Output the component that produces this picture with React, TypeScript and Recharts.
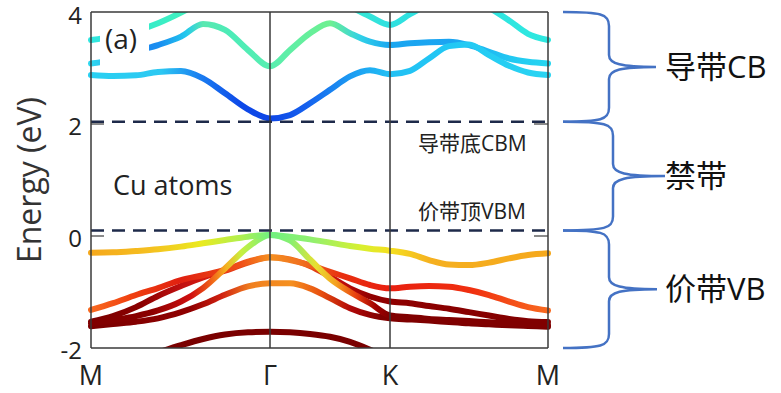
import { LineChart, Line, XAxis, YAxis, ReferenceLine } from 'recharts';

// k-path sampling (distance along M-Γ-K-M)
const kPath = [0, 22, 45, 67, 90, 112, 134, 157, 179, 199, 219, 239, 259, 279, 299, 319, 338, 358, 378, 398, 418, 437, 457];
const kTicks = [0, 179, 299, 457];
const kLabels = ['M', 'Γ', 'K', 'M'];
const energyTicks = [-2, 0, 2, 4];
const cbmLevel = 2.04;
const vbmLevel = 0.1;

// conduction bands (eV)
const bandC1 = [2.875, 2.857, 2.87, 2.93, 2.946, 2.815, 2.548, 2.262, 2.1, 2.16, 2.37, 2.61, 2.85, 2.96, 2.89, 2.95, 3.17, 3.39, 3.42, 3.23, 3.04, 2.92, 2.875];
const bandC2 = [3.08, 3.15, 3.3, 3.41, 3.56, 3.786, 3.68, 3.32, 3.03, 3.32, 3.62, 3.8, 3.62, 3.47, 3.41, 3.44, 3.46, 3.47, 3.41, 3.29, 3.17, 3.11, 3.08];
const bandC3 = [3.5, 3.56, 3.66, 3.8, 3.99, 4.2, null, null, null, null, null, null, 4.1, 3.92, 3.77, 3.96, 4.15, null, null, 4.08, 3.85, 3.61, 3.5];

// valence bands (eV)
const bandV1 = [-0.298, -0.292, -0.268, -0.238, -0.19, -0.131, -0.071, -0.012, 0.02, -0.012, -0.06, -0.119, -0.179, -0.226, -0.262, -0.32, -0.43, -0.51, -0.52, -0.476, -0.4, -0.34, -0.31];
const bandV2 = [-1.56, -1.5, -1.43, -1.33, -1.17, -0.93, -0.58, -0.2, 0.02, -0.08, -0.42, -0.76, -1.0, -1.2, -1.42, -1.45, -1.48, -1.5, -1.52, -1.54, -1.56, -1.58, -1.595];
const bandV3a = [-1.32, -1.2, -1.054, -0.93, -0.786, -0.7, -0.607, -0.458, -0.38, -0.43, -0.52, -0.64, -0.756, -0.875, -0.935, -0.905, -0.893, -0.905, -0.964, -1.054, -1.17, -1.27, -1.33];
const bandV3b = [-1.53, -1.43, -1.27, -1.07, -0.893, -0.74, -0.62, -0.476, -0.38, -0.417, -0.536, -0.726, -0.935, -1.08, -1.17, -1.2, -1.25, -1.3, -1.36, -1.42, -1.48, -1.52, -1.536];
const bandV4 = [-1.61, -1.57, -1.53, -1.47, -1.36, -1.22, -1.05, -0.9, -0.845, -0.845, -0.935, -1.11, -1.29, -1.41, -1.47, -1.49, -1.51, -1.536, -1.56, -1.577, -1.595, -1.607, -1.62];
const bandV5 = [null, null, null, -2.08, -1.95, -1.84, -1.76, -1.72, -1.71, -1.72, -1.75, -1.8, -1.89, -2.03, -2.2, null, null, null, null, null, null, null, null];

// colour along each band: [k, colour]
const stopsC1 = [[0, '#2ad0f2'], [70, '#2cc8f2'], [110, '#1a7cf0'], [150, '#0d48e8'], [179, '#0e46e6'], [215, '#1560ee'], [260, '#1c9cf2'], [299, '#22c0f4'], [360, '#22c8f4'], [457, '#2ad4f2']];
const stopsC2 = [[0, '#30d8f0'], [50, '#1e88f0'], [70, '#1a90f0'], [95, '#22c8ee'], [112, '#5ae8b0'], [140, '#4cecb8'], [179, '#58eeb0'], [239, '#6ef090'], [270, '#30d0e8'], [299, '#1aa6f0'], [360, '#1ba4f2'], [420, '#22c8f2'], [457, '#26d6f0']];
const stopsC3 = [[0, '#30e6e0'], [60, '#38ecc8'], [90, '#40f0c0'], [260, '#36e8d4'], [299, '#30e0e0'], [457, '#2ee8e0']];
const stopsV1 = [[0, '#f5a81c'], [60, '#f5c020'], [110, '#eaea20'], [150, '#b0f050'], [179, '#70f080'], [220, '#90f070'], [270, '#d8f030'], [299, '#f5e020'], [340, '#f5b020'], [457, '#f5a81c']];
const stopsV2 = [[0, '#800000'], [60, '#8a0000'], [100, '#d01010'], [120, '#f06018'], [135, '#f5b020'], [150, '#c8f040'], [179, '#70f080'], [200, '#88f070'], [225, '#e8e030'], [245, '#f5a020'], [265, '#e84010'], [285, '#a00000'], [299, '#800000'], [457, '#800000']];
const stopsV3a = [[0, '#f86a20'], [40, '#f04010'], [90, '#e02010'], [150, '#f05018'], [179, '#f59020'], [210, '#f07020'], [250, '#e83010'], [299, '#e82010'], [380, '#f03010'], [457, '#f86a20']];
const stopsV3b = [[0, '#7a0000'], [50, '#8a0000'], [90, '#c01010'], [130, '#e02010'], [179, '#f08020'], [210, '#f06018'], [245, '#c81010'], [280, '#900000'], [457, '#800000']];
const stopsV4 = [[0, '#7a0000'], [100, '#900000'], [130, '#d02010'], [160, '#f08020'], [200, '#f59020'], [230, '#e85010'], [260, '#b00808'], [290, '#800000'], [457, '#7a0000']];
const stopsV5 = [[0, '#7a0000'], [457, '#7a0000']];

const bands = [
  { key: 'c3', values: bandC3, stops: stopsC3 },
  { key: 'c2', values: bandC2, stops: stopsC2 },
  { key: 'c1', values: bandC1, stops: stopsC1 },
  { key: 'v5', values: bandV5, stops: stopsV5 },
  { key: 'v4', values: bandV4, stops: stopsV4 },
  { key: 'v3b', values: bandV3b, stops: stopsV3b },
  { key: 'v3a', values: bandV3a, stops: stopsV3a },
  { key: 'v2', values: bandV2, stops: stopsV2 },
  { key: 'v1', values: bandV1, stops: stopsV1 },
];

const data = kPath.map((k, i) => {
  const row: Record<string, number | null> = { k };
  bands.forEach((b) => {
    row[b.key] = b.values[i];
  });
  return row;
});

const W = 781;
const H = 393;
const PLOT_LEFT = 91;
const PLOT_TOP = 12;
const PLOT_W = 457;
const PLOT_H = 336;
const K_MAX = 457;
const E_MIN = -2;
const E_MAX = 4;
const FONT = "'Open Sans', 'Noto Sans CJK SC', sans-serif";
const FRAME = '#3a3a3a';

const yPix = (e: number) => PLOT_TOP + ((E_MAX - e) / (E_MAX - E_MIN)) * PLOT_H;
const xPix = (k: number) => PLOT_LEFT + (k / K_MAX) * PLOT_W;

function bracePath(x0: number, xv: number, tip: number, yTop: number, yBot: number) {
  const yMid = (yTop + yBot) / 2;
  return [
    `M ${x0} ${yTop}`,
    `C ${xv - 8} ${yTop}, ${xv} ${yTop + 2}, ${xv} ${yTop + 14}`,
    `L ${xv} ${yMid - 12}`,
    `C ${xv} ${yMid - 3}, ${xv + 12} ${yMid}, ${tip} ${yMid}`,
    `C ${xv + 12} ${yMid}, ${xv} ${yMid + 3}, ${xv} ${yMid + 12}`,
    `L ${xv} ${yBot - 14}`,
    `C ${xv} ${yBot - 2}, ${xv - 8} ${yBot}, ${x0} ${yBot}`,
  ].join(' ');
}

export default function App() {
  const braces = [
    { top: E_MAX, bot: cbmLevel, xv: 609, tip: 656, label: '导带CB' },
    { top: cbmLevel, bot: vbmLevel, xv: 613, tip: 665, label: '禁带' },
    { top: vbmLevel, bot: E_MIN, xv: 609, tip: 657, label: '价带VB' },
  ];

  return (
    <div style={{ position: 'absolute', left: 0, top: 0, width: W, height: H, background: '#fff' }}>
      <LineChart width={W} height={H} data={data} margin={{ top: PLOT_TOP, right: W - PLOT_LEFT - PLOT_W, bottom: 15, left: 31 }}>
        <defs>
          {bands.map((b) => (
            <linearGradient key={b.key} id={`grad-${b.key}`} gradientUnits="userSpaceOnUse" x1={PLOT_LEFT} y1={0} x2={PLOT_LEFT + PLOT_W} y2={0}>
              {b.stops.map(([k, c]) => (
                <stop key={String(k)} offset={(k as number) / K_MAX} stopColor={c as string} />
              ))}
            </linearGradient>
          ))}
        </defs>
        <XAxis
          dataKey="k"
          type="number"
          domain={[0, K_MAX]}
          ticks={kTicks}
          tickFormatter={(v) => kLabels[kTicks.indexOf(v)]}
          axisLine={false}
          tickLine={false}
          tickSize={0}
          tickMargin={18}
          height={30}
          tick={{ fontSize: 27, fill: '#222', fontFamily: FONT }}
        />
        <YAxis
          type="number"
          domain={[E_MIN, E_MAX]}
          allowDataOverflow
          ticks={energyTicks}
          axisLine={false}
          tickLine={false}
          tickSize={0}
          tickMargin={9}
          width={60}
          tick={{ fontSize: 24, fill: '#222', fontFamily: FONT, dy: 2 }}
        />
        {bands.map((b) => (
          <Line
            key={b.key}
            dataKey={b.key}
            type="monotone"
            stroke={`url(#grad-${b.key})`}
            strokeWidth={6}
            strokeLinecap="round"
            dot={false}
            activeDot={false}
            isAnimationActive={false}
          />
        ))}
        <ReferenceLine y={cbmLevel} stroke="#1e2a4a" strokeWidth={2.5} strokeDasharray="13 8" />
        <ReferenceLine y={vbmLevel} stroke="#1e2a4a" strokeWidth={2.5} strokeDasharray="13 8" />
        <ReferenceLine segment={[{ x: 0, y: 0 }, { x: 13, y: 0 }]} stroke="#8a8a8a" strokeWidth={2} />
        <ReferenceLine segment={[{ x: 0, y: 2 }, { x: 13, y: 2 }]} stroke="#8a8a8a" strokeWidth={2} />
        <ReferenceLine segment={[{ x: K_MAX - 14, y: 0 }, { x: K_MAX, y: 0 }]} stroke="#8a8a8a" strokeWidth={2} />
        <ReferenceLine segment={[{ x: K_MAX - 14, y: 2 }, { x: K_MAX, y: 2 }]} stroke="#8a8a8a" strokeWidth={2} />
        <ReferenceLine x={kTicks[1]} stroke={FRAME} strokeWidth={1.5} />
        <ReferenceLine x={kTicks[2]} stroke={FRAME} strokeWidth={1.5} />
        <ReferenceLine x={0} stroke={FRAME} strokeWidth={1.5} />
        <ReferenceLine x={K_MAX} stroke={FRAME} strokeWidth={1.5} />
        <ReferenceLine y={E_MAX} stroke={FRAME} strokeWidth={1.5} />
        <ReferenceLine y={E_MIN} stroke={FRAME} strokeWidth={1.5} />
      </LineChart>
      <svg width={W} height={H} style={{ position: 'absolute', left: 0, top: 0, pointerEvents: 'none' }} fontFamily={FONT}>
        <rect x={xPix(9)} y={14} width={49} height={52} fill="#fff" />
        <text x={105} y={49} fontSize={28} fill="#222">(a)</text>
        <text x={113} y={195} fontSize={27} fill="#222">Cu atoms</text>
        <text x={418} y={151} fontSize={21} fill="#222">导带底CBM</text>
        <text x={418} y={219} fontSize={21} fill="#222">价带顶VBM</text>
        <text x={0} y={0} fontSize={32} fill="#333" textAnchor="middle" dominantBaseline="central" transform={`translate(28 ${yPix(1)}) rotate(-90)`}>
          Energy (eV)
        </text>
        {braces.map((b) => {
          const yT = yPix(b.top);
          const yB = yPix(b.bot);
          return (
            <g key={b.label}>
              <path d={bracePath(563, b.xv, b.tip, yT, yB)} fill="none" stroke="#4472c4" strokeWidth={2.5} />
              <text x={665} y={(yT + yB) / 2 + 11} fontSize={31} fill="#111">{b.label}</text>
            </g>
          );
        })}
      </svg>
    </div>
  );
}
